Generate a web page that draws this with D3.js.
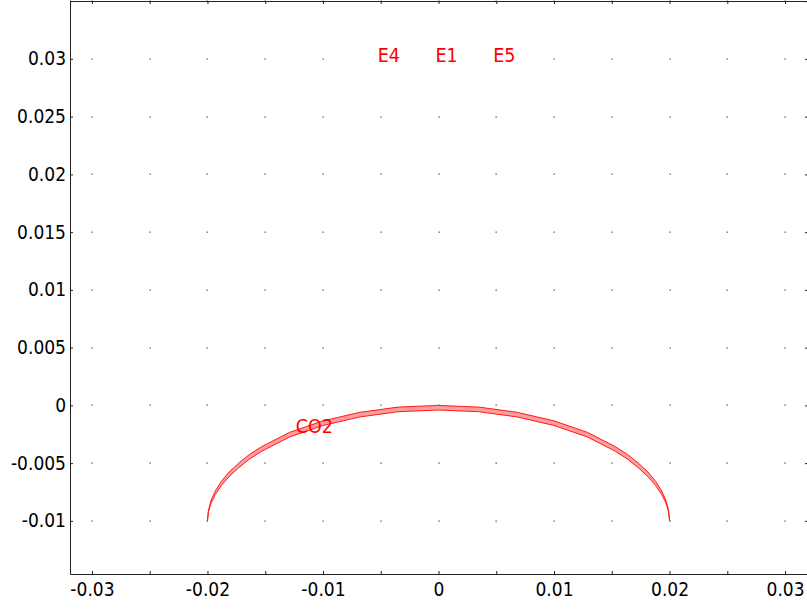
<!DOCTYPE html>
<html>
<head>
<meta charset="utf-8">
<script src="https://cdn.jsdelivr.net/npm/d3@7"></script>
<style>
  body { margin: 0; background: #fff; }
  svg { display: block; }
  text { font-family: "DejaVu Sans Condensed", "DejaVu Sans", sans-serif; font-stretch: condensed; }
  .axis path, .axis line { stroke: #222; }
</style>
</head>
<body>
<svg width="807" height="610"></svg>
<script>
// ticks
const xTicks = [-0.03, -0.025, -0.02, -0.015, -0.01, -0.005, 0, 0.005, 0.01, 0.015, 0.02, 0.025, 0.03]
const xLabels = [-0.03, -0.02, -0.01, 0, 0.01, 0.02, 0.03]
const yTicks = [-0.01, -0.005, 0, 0.005, 0.01, 0.015, 0.02, 0.025, 0.03, 0.035]
const yLabels = [-0.01, -0.005, 0, 0.005, 0.01, 0.015, 0.02, 0.025, 0.03]

// CO2 boundary band (outer and inner edge, same x points)
const arcX = [-0.02, -0.01992, -0.0197, -0.01932, -0.0188, -0.01813, -0.0173, -0.01638, -0.0153,
  -0.0129, -0.01, -0.0068, -0.0035, 0,
  0.0035, 0.0068, 0.01, 0.0129,
  0.0153, 0.01638, 0.0173, 0.01813, 0.0188, 0.01932, 0.0197, 0.01992, 0.02]
const outerY = [-0.01, -0.00913, -0.00826, -0.00741, -0.00658, -0.00577, -0.005, -0.00426, -0.00357,
  -0.00234, -0.00134, -0.0006, -0.00015, 0,
  -0.00015, -0.0006, -0.00134, -0.00234,
  -0.00357, -0.00426, -0.005, -0.00577, -0.00658, -0.00741, -0.00826, -0.00913, -0.01]
const innerY = [-0.01, -0.00925, -0.00848, -0.00771, -0.00694, -0.00617, -0.0054, -0.00466, -0.00397,
  -0.00274, -0.00174, -0.001, -0.00055, -0.0004,
  -0.00055, -0.001, -0.00174, -0.00274,
  -0.00397, -0.00466, -0.0054, -0.00617, -0.00694, -0.00771, -0.00848, -0.00925, -0.01]

// labels
const labelText = ["E4", "E1", "E5", "CO2"]
const labelX = [-0.005, 0, 0.005, -0.0121]
const labelY = [0.03, 0.03, 0.03, -0.0021]

const width = 807, height = 610
const margin = {top: 1, left: 70, bottom: 36, right: 0}

const svg = d3.select("svg")

const scaleX = d3.scaleLinear().domain([-0.0319, 0.0319]).range([margin.left, width - margin.right])
const scaleY = d3.scaleLinear().domain([-0.0146, 0.0351]).range([height - margin.bottom, 0])

const fmt = d => d === 0 ? "0" : String(+d.toFixed(4))

// grid dots
const dots = []
xTicks.forEach(x => yTicks.forEach(y => dots.push({x: x, y: y})))
svg.append("g").attr("class", "gDots")
  .selectAll("rect")
  .data(dots)
  .enter()
  .append("rect")
  .attr("x", d => Math.round(scaleX(d.x)) - 0.5)
  .attr("y", d => Math.round(scaleY(d.y)) - 0.5)
  .attr("width", 1.3)
  .attr("height", 1.3)
  .attr("fill", "#555")

// band polygon
const outer = arcX.map((x, i) => [x, outerY[i]])
const inner = arcX.map((x, i) => [x, innerY[i]]).reverse()
const band = d3.line().x(d => scaleX(d[0])).y(d => scaleY(d[1]))
svg.append("path")
  .attr("d", band(outer.concat(inner)) + "Z")
  .attr("fill", "#ff9c9c")
  .attr("stroke", "#ff1a1a")
  .attr("stroke-width", 1)
  .attr("stroke-linejoin", "round")

// axes
const gX = svg.append("g").attr("class", "axis")
  .attr("transform", "translate(0," + (height - margin.bottom) + ")")
  .call(d3.axisBottom(scaleX).tickValues(xTicks).tickSizeInner(-3).tickSizeOuter(0).tickPadding(9)
    .tickFormat(d => xLabels.includes(d) ? fmt(d) : ""))
gX.selectAll("text").attr("font-size", 19).attr("fill", "#000")

const gY = svg.append("g").attr("class", "axis")
  .attr("transform", "translate(" + margin.left + ",0)")
  .call(d3.axisLeft(scaleY).tickValues(yTicks).tickSizeInner(-3).tickSizeOuter(0).tickPadding(4)
    .tickFormat(d => yLabels.includes(d) ? fmt(d) : ""))
gY.selectAll("text").attr("font-size", 19).attr("fill", "#000")

// top frame
svg.append("g").attr("class", "axis")
  .attr("transform", "translate(0,1)")
  .call(d3.axisTop(scaleX).tickValues(xTicks).tickSizeInner(-3).tickSizeOuter(0).tickFormat(""))

// right frame (just outside the window)
svg.append("g").attr("class", "axis")
  .attr("transform", "translate(807,0)")
  .call(d3.axisRight(scaleY).tickValues(yTicks).tickSizeInner(-2).tickSizeOuter(0).tickFormat(""))

// labels
svg.append("g").selectAll("text")
  .data(labelText)
  .enter()
  .append("text")
  .attr("x", (d, i) => scaleX(labelX[i]) - 3)
  .attr("y", (d, i) => scaleY(labelY[i]) + 3)
  .attr("font-size", 19.5)
  .attr("fill", "#ff0000")
  .text(d => d)
</script>
</body>
</html>
